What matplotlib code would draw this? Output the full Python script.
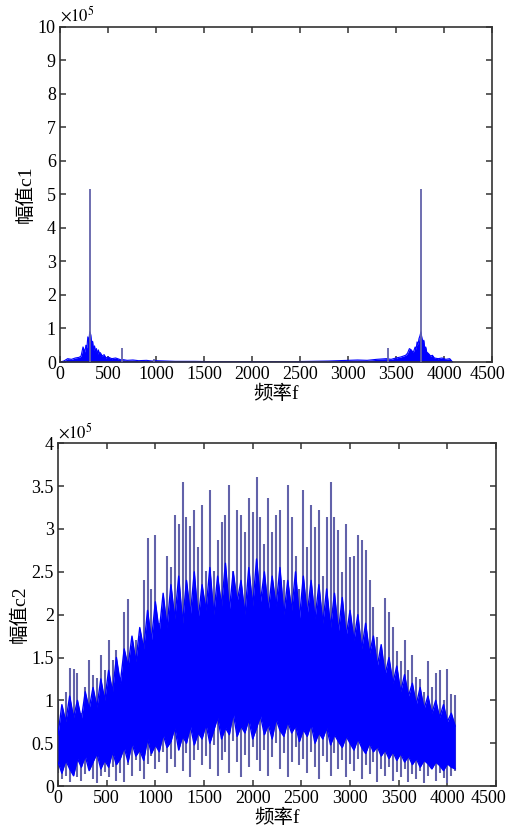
import numpy as np
import matplotlib
matplotlib.use('Agg')
import matplotlib.pyplot as plt
import matplotlib.transforms as mtransforms

plt.rcParams['font.family'] = ['Liberation Serif', 'Noto Sans CJK SC']
plt.rcParams['mathtext.fontset'] = 'stix'

# --- spectrum c1 (amplitudes in units of 1e5) ---
c1_freq = [0, 40, 80, 120, 160, 200, 220, 240, 260, 270, 280, 290, 300, 310, 320,
           330, 340, 350, 360, 370, 380, 390, 400, 410, 420, 440, 460, 480, 500,
           540, 580, 620, 640, 660, 700, 760, 820, 900, 960, 1000, 1100, 1200,
           1400, 1600, 1800, 2000, 2200, 2400, 2600, 2800, 2900, 3000, 3100, 3200,
           3300, 3400, 3450, 3500, 3550, 3600, 3620, 3640, 3660, 3680, 3700, 3710,
           3720, 3730, 3740, 3750, 3760, 3770, 3780, 3790, 3800, 3810, 3820, 3840,
           3860, 3880, 3900, 3940, 3980, 4020, 4060, 4090]
c1_amp = [0.0, 0.03, 0.10, 0.08, 0.12, 0.14, 0.18, 0.45, 0.30, 0.50, 0.42, 0.75,
          0.60, 0.90, 0.82, 0.55, 0.62, 0.35, 0.48, 0.30, 0.40, 0.22, 0.36, 0.25,
          0.28, 0.18, 0.22, 0.12, 0.15, 0.10, 0.12, 0.08, 0.06, 0.07, 0.05, 0.06,
          0.04, 0.05, 0.03, 0.04, 0.03, 0.02, 0.02, 0.01, 0.01, 0.01, 0.01, 0.01,
          0.02, 0.03, 0.04, 0.05, 0.06, 0.05, 0.08, 0.10, 0.08, 0.12, 0.15, 0.20,
          0.26, 0.40, 0.36, 0.28, 0.45, 0.38, 0.60, 0.52, 0.70, 0.78, 0.90, 0.72,
          0.60, 0.65, 0.40, 0.45, 0.30, 0.25, 0.18, 0.20, 0.12, 0.10, 0.12, 0.08,
          0.10, 0.0]
c1_spike_freq = [313, 643, 982, 3418, 3762]
c1_spike_amp = [5.15, 0.42, 0.10, 0.42, 5.15]

# --- spectrum c2 (amplitudes in units of 1e5), one bin every 40 Hz ---
c2_bin = 40
c2_high = [1.00, 0.80, 1.10, 1.38, 1.37, 1.32, 0.85, 1.16, 1.47, 1.30, 1.26, 1.53,
           1.35, 1.70, 1.47, 1.59, 1.10, 2.03, 2.18, 1.64, 1.71, 1.75, 2.40, 2.89,
           2.30, 2.93, 1.90, 2.05, 2.69, 2.56, 3.16, 3.06, 3.55, 3.14, 3.04, 3.22,
           2.79, 3.28, 2.51, 3.45, 2.51, 2.87, 3.08, 3.16, 3.51, 2.51, 3.22, 3.16,
           2.97, 3.36, 3.20, 3.61, 3.14, 2.83, 3.36, 2.97, 3.16, 3.22, 2.40, 3.51,
           3.14, 2.69, 2.30, 3.45, 2.79, 3.28, 3.02, 3.22, 2.45, 3.14, 3.55, 3.14,
           2.99, 2.50, 3.06, 2.67, 2.69, 2.93, 2.87, 2.75, 2.40, 2.09, 1.74, 1.62,
           2.19, 2.03, 1.86, 1.58, 1.46, 1.70, 1.35, 1.53, 1.27, 1.25, 1.10, 1.46,
           1.16, 1.32, 1.35, 1.00, 1.37, 1.08, 1.06]
c2_low = [0.15, 0.08, 0.12, 0.05, 0.18, 0.10, 0.06, 0.14, 0.20, 0.08, 0.04, 0.12, 0.16,
          0.10, 0.22, 0.06, 0.15, 0.05, 0.24, 0.12, 0.30, 0.18, 0.08, 0.26, 0.35, 0.20,
          0.28, 0.40, 0.15, 0.32, 0.22, 0.45, 0.18, 0.38, 0.10, 0.30, 0.42, 0.25,
          0.35, 0.20, 0.48, 0.12, 0.30, 0.40, 0.15, 0.52, 0.28, 0.10, 0.36, 0.22, 0.45,
          0.30, 0.18, 0.42, 0.12, 0.34, 0.50, 0.20, 0.38, 0.10, 0.28, 0.45, 0.24,
          0.32, 0.15, 0.40, 0.22, 0.08, 0.35, 0.28, 0.12, 0.38, 0.20, 0.30, 0.10, 0.26,
          0.18, 0.32, 0.08, 0.24, 0.14, 0.28, 0.05, 0.20, 0.12, 0.22, 0.06, 0.16,
          0.10, 0.20, 0.05, 0.14, 0.08, 0.18, 0.04, 0.12, 0.20, 0.06, 0.15, 0.09, 0.03,
          0.12, 0.18]
# dense core of the c2 spectrum, same 40 Hz bins
c2_core_top = [0.60, 0.95, 0.75, 1.05, 0.80, 1.00, 0.78, 1.10, 0.90, 1.15, 0.92, 1.25, 1.00,
               1.35, 1.10, 1.50, 1.20, 1.60, 1.40, 1.75, 1.45, 1.85, 1.60, 2.05, 1.70, 2.15,
               1.80, 2.25, 1.85, 2.35, 1.95, 2.45, 1.90, 2.40, 2.00, 2.50, 1.95, 2.35,
               2.05, 2.55, 2.00, 2.45, 2.10, 2.60, 2.05, 2.50, 2.15, 2.40, 2.00, 2.55, 2.10,
               2.65, 2.15, 2.50, 2.05, 2.45, 2.10, 2.55, 2.00, 2.40, 2.05, 2.50, 1.95,
               2.45, 2.00, 2.40, 1.95, 2.35, 1.90, 2.30, 1.85, 2.25, 1.80, 2.20, 1.75, 2.05,
               1.70, 2.00, 1.60, 1.90, 1.55, 1.75, 1.40, 1.65, 1.30, 1.50, 1.20, 1.40,
               1.10, 1.30, 1.05, 1.20, 0.95, 1.15, 0.90, 1.05, 0.85, 1.00, 0.80, 0.95, 0.75,
               0.85, 0.70]
c2_core_bot = [0.28, 0.15, 0.30, 0.20, 0.12, 0.32, 0.22, 0.35, 0.18, 0.28, 0.38, 0.20, 0.30,
               0.22, 0.40, 0.25, 0.32, 0.45, 0.28, 0.50, 0.35, 0.42, 0.30, 0.55, 0.38, 0.48,
               0.40, 0.60, 0.45, 0.52, 0.68, 0.42, 0.58, 0.50, 0.70, 0.48, 0.62, 0.55,
               0.72, 0.50, 0.65, 0.80, 0.55, 0.68, 0.60, 0.85, 0.58, 0.70, 0.62, 0.78, 0.55,
               0.68, 0.82, 0.60, 0.72, 0.55, 0.78, 0.65, 0.58, 0.75, 0.62, 0.70, 0.52,
               0.66, 0.58, 0.72, 0.50, 0.62, 0.55, 0.68, 0.48, 0.60, 0.52, 0.45, 0.58, 0.50,
               0.42, 0.55, 0.45, 0.38, 0.50, 0.40, 0.46, 0.35, 0.42, 0.32, 0.40, 0.30,
               0.38, 0.28, 0.35, 0.25, 0.32, 0.22, 0.30, 0.26, 0.20, 0.28, 0.24, 0.18, 0.26,
               0.22, 0.20]

x_ticks = [0, 500, 1000, 1500, 2000, 2500, 3000, 3500, 4000, 4500]
c1_yticks = [0, 1, 2, 3, 4, 5, 6, 7, 8, 9, 10]
c2_yticks = [0, 0.5, 1, 1.5, 2, 2.5, 3, 3.5, 4]
c2_ylabels = ['0', '0.5', '1', '1.5', '2', '2.5', '3', '3.5', '4']

spike_color = '#6262aa'
core_color = '#0000ff'


def style_axes(fig, ax, yticks, ylabels, ylabel, last_shift):
    ax.set_xlim(0, 4500)
    ax.set_ylim(yticks[0], yticks[-1])
    ax.set_xticks(x_ticks)
    ax.set_xticklabels([str(t) for t in x_ticks])
    ax.set_yticks(yticks)
    ax.set_yticklabels(ylabels)
    ax.tick_params(direction='in', top=True, right=True, length=4, width=1.1,
                   color='#333333', labelsize=13, pad=3)
    # pull the last x label in a little so it stays inside the figure
    last = ax.get_xticklabels()[-1]
    last.set_transform(last.get_transform() +
                       mtransforms.ScaledTranslation(-last_shift / 100, 0,
                                                     fig.dpi_scale_trans))
    for sp in ax.spines.values():
        sp.set_linewidth(1.2)
        sp.set_color('#333333')
    ax.set_xlabel('频率f', fontsize=14, labelpad=1)
    ax.set_ylabel(ylabel, fontsize=14, labelpad=2)
    ax.text(0, 1.004, r'$\times10^{5}$', transform=ax.transAxes,
            fontsize=12, ha='left', va='bottom')


fig = plt.figure(figsize=(5.10, 8.38), dpi=100)
ax1 = fig.add_axes([0.1176, 0.568, 0.847, 0.400])
ax2 = fig.add_axes([0.1137, 0.062, 0.859, 0.409])

# top: two strong lines on a low noise floor
ax1.fill_between(c1_freq, 0, c1_amp, color=core_color, lw=0, zorder=2)
ax1.plot(c1_freq, c1_amp, color=core_color, lw=0.8, zorder=2)
ax1.vlines(c1_spike_freq, 0, c1_spike_amp, color=spike_color, lw=1.3, zorder=3)
style_axes(fig, ax1, c1_yticks, [str(t) for t in c1_yticks], '幅值c1', 4)

# bottom: broadband spectrum
c2_freq = np.arange(len(c2_high)) * c2_bin
ax2.vlines(c2_freq, c2_low, c2_high, color=spike_color, lw=1.5, zorder=2)
ax2.fill_between(c2_freq, c2_core_bot, c2_core_top, color=core_color, lw=0, zorder=3)
ax2.plot(c2_freq, c2_core_top, color=core_color, lw=1.0, zorder=3)
ax2.plot(c2_freq, c2_core_bot, color=core_color, lw=1.0, zorder=3)
style_axes(fig, ax2, c2_yticks, c2_ylabels, '幅值c2', 8)

fig.savefig('out.png', dpi=100)
